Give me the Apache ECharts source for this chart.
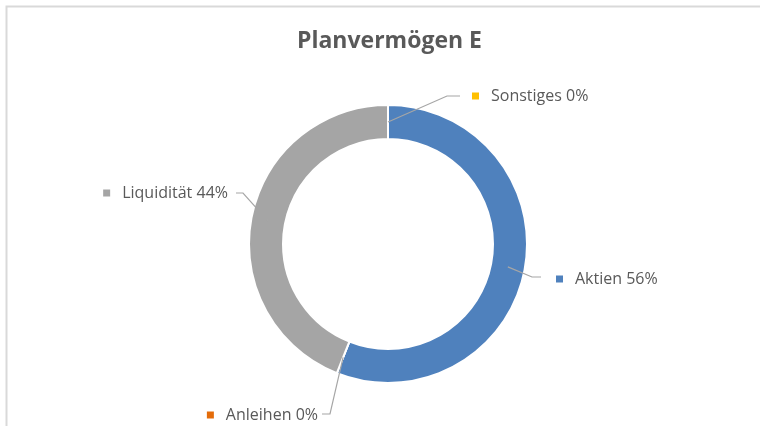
<!DOCTYPE html>
<html lang="de">
  <head>
    <meta charset="UTF-8" />
    <title>Planvermögen E</title>
    <script src="https://cdn.jsdelivr.net/npm/echarts@6/dist/echarts.min.js"></script>
    <style>
      html, body { margin: 0; padding: 0; background: #fff; }
    </style>
  </head>
  <body>
    <div id="main" style="width: 760px; height: 426px"></div>

    <script>
      // Daten
      var names = ["Aktien", "Anleihen", "Liquidität", "Sonstiges"];
      var values = [56, 0, 44, 0];
      var colors = ["#4F81BD", "#E46C0A", "#A5A5A5", "#FFC000"];

      // Lage des Rings und der Beschriftungen
      var CX = 388, CY = 244, R_IN = 105, R_OUT = 139;
      var labelPos = [
        { x: 556, y: 279, align: "left", elbow: [532, 277], end: [541, 277] },
        { x: 318, y: 415, align: "right", elbow: [330, 414], end: [322, 414] },
        { x: 228, y: 193, align: "right", elbow: [243, 193], end: [236, 193] },
        { x: 472, y: 96, align: "left", elbow: [447, 96], end: [460, 96] },
      ];

      var total = values.reduce(function (a, b) { return a + b; }, 0);

      // Startpunkt der Linie: Ringmitte, Winkel aus den Daten
      function ringMid(i) {
        var before = 0;
        for (var k = 0; k < i; k++) before += values[k];
        var theta = (2 * Math.PI * (before + values[i] / 2)) / total;
        var rm = (R_IN + R_OUT) / 2;
        return [CX + rm * Math.sin(theta), CY - rm * Math.cos(theta)];
      }

      // Führungslinien (über dem Ring)
      var leaders = labelPos.map(function (lp, i) {
        return {
          type: "polyline",
          z: 100,
          silent: true,
          shape: { points: [ringMid(i), lp.elbow, lp.end] },
          style: { fill: null, stroke: "#A6A6A6", lineWidth: 1.2 },
        };
      });

      var myChart = echarts.init(document.getElementById("main"));

      var option = {
        backgroundColor: "#fff",
        animation: false,
        title: {
          text: "Planvermögen E",
          left: 292,
          top: 25,
          textStyle: {
            fontFamily: "Open Sans",
            fontWeight: "bold",
            fontSize: 23,
            color: "#595959",
          },
        },
        graphic: [
          {
            type: "rect",
            shape: { x: 6.5, y: 6.5, width: 800, height: 500 },
            style: { fill: "none", stroke: "#d9d9d9", lineWidth: 2 },
            silent: true,
          },
        ].concat(leaders),
        series: [
          {
            type: "pie",
            center: [CX, CY],
            radius: [R_IN, R_OUT],
            startAngle: 90,
            clockwise: true,
            avoidLabelOverlap: false,
            itemStyle: { borderColor: "#fff", borderWidth: 2 },
            label: {
              show: true,
              position: "outside",
              fontFamily: "Open Sans",
              fontSize: 16,
              color: "#595959",
              formatter: function (p) {
                return "{sq|}{t|" + p.name + " " + p.value + "%}";
              },
            },
            labelLine: { show: false },
            labelLayout: function (p) {
              var lp = labelPos[p.dataIndex];
              return {
                x: lp.x,
                y: lp.y,
                align: lp.align,
                verticalAlign: "middle",
              };
            },
            data: names.map(function (n, i) {
              return {
                name: n,
                value: values[i],
                itemStyle: { color: colors[i] },
                label: {
                  rich: {
                    sq: { width: 7, height: 7, backgroundColor: colors[i] },
                    t: {
                      fontFamily: "Open Sans",
                      fontSize: 16,
                      color: "#595959",
                      padding: [0, 0, 0, 12],
                    },
                  },
                },
              };
            }),
          },
        ],
      };

      myChart.setOption(option);
    </script>
  </body>
</html>
